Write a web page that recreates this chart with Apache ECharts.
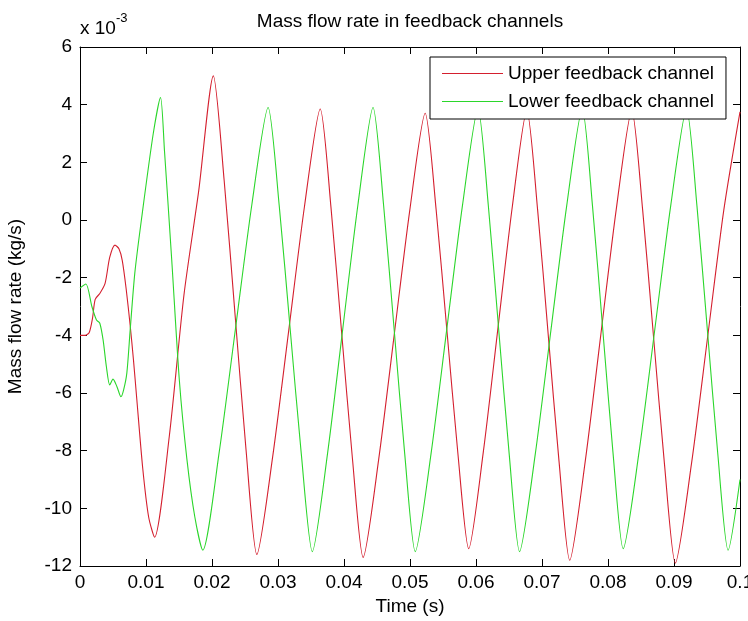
<!DOCTYPE html>
<html>
<head>
<meta charset="utf-8">
<title>Mass flow rate in feedback channels</title>
<script src="https://cdn.jsdelivr.net/npm/echarts/dist/echarts.min.js"></script>
<style>
  html, body { margin: 0; padding: 0; background: #ffffff; }
  #chart { width: 748px; height: 621px; }
</style>
</head>
<body>
<div id="chart"></div>
<script>
// Time samples (s) and mass flow rate (kg/s, in units of 1e-3) for each feedback channel
const upperTime = [
  0, 0.0008, 0.0014, 0.0019, 0.0023, 0.0030, 0.0038, 0.0045, 0.0053, 0.0059, 0.0064,
  0.0070, 0.0076, 0.0081, 0.0086, 0.0095, 0.0104, 0.0113,
  0.01353, 0.01575, 0.01798, 0.0202,
  0.02185, 0.0235, 0.02515, 0.0268,
  0.0292, 0.0316, 0.0340, 0.0364,
  0.03803, 0.03965, 0.04128, 0.0429,
  0.04525, 0.0476, 0.04995, 0.0523,
  0.05395, 0.0556, 0.05725, 0.0589,
  0.0611, 0.0633, 0.0655, 0.0677,
  0.06933, 0.07095, 0.07258, 0.0742,
  0.07655, 0.0789, 0.08125, 0.0836,
  0.08525, 0.0869, 0.08855, 0.0902,
  0.09265, 0.0951, 0.09755, 0.1
];
const upperFlow = [
  -4.0, -4.0, -3.9, -3.4, -2.75, -2.55, -2.2, -1.3, -0.87, -1.0, -1.4,
  -2.4, -3.65, -4.85, -6.2, -8.6, -10.3, -11.0,
  -7.5, -2.6, 1.0, 5.0,
  1.35, -3.3, -7.95, -11.6,
  -8.2, -3.88, 0.45, 3.85,
  0.43, -3.93, -8.28, -11.7,
  -8.31, -4.0, 0.31, 3.7,
  0.38, -3.85, -8.08, -11.4,
  -8.06, -3.8, 0.46, 3.8,
  0.37, -4.0, -8.37, -11.8,
  -8.37, -4.0, 0.37, 3.8,
  0.35, -4.05, -8.45, -11.9,
  -8.45, -4.05, 0.35, 3.75
];
const lowerTime = [
  0, 0.0009, 0.0018, 0.0025, 0.0030, 0.0035, 0.0040, 0.0045, 0.0050, 0.0056, 0.0062,
  0.0066, 0.0071, 0.0076, 0.0083, 0.0093, 0.0111, 0.0122,
  0.0128, 0.0139, 0.01505, 0.0162, 0.0174, 0.0186,
  0.02108, 0.02355, 0.02603, 0.0285,
  0.03018, 0.03185, 0.03353, 0.0352,
  0.0375, 0.0398, 0.0421, 0.0444,
  0.0460, 0.0476, 0.0492, 0.0508,
  0.05318, 0.05555, 0.05793, 0.0603,
  0.06188, 0.06345, 0.06503, 0.0666,
  0.06898, 0.07135, 0.07373, 0.0761,
  0.07765, 0.0792, 0.08075, 0.0823,
  0.0847, 0.0871, 0.0895, 0.0919,
  0.09348, 0.09505, 0.09663, 0.0982,
  0.1
];
const lowerFlow = [
  -2.36, -2.22, -3.0, -3.47, -3.58, -4.16, -5.09, -5.72, -5.52, -5.78, -6.13,
  -5.9, -5.3, -3.82, -1.85, 0.0, 3.0, 4.25,
  2.4, -1.39, -5.55, -8.3, -10.3, -11.45,
  -8.07, -3.78, 0.52, 3.9,
  0.51, -3.8, -8.11, -11.5,
  -8.11, -3.8, 0.51, 3.9,
  0.51, -3.8, -8.11, -11.5,
  -8.12, -3.83, 0.47, 3.85,
  0.47, -3.83, -8.12, -11.5,
  -8.12, -3.83, 0.47, 3.85,
  0.49, -3.78, -8.05, -11.4,
  -8.05, -3.78, 0.49, 3.85,
  0.48, -3.8, -8.1, -11.45,
  -9.0
];
const seriesNames = ['Upper feedback channel', 'Lower feedback channel'];
const seriesColors = ['#d41f2e', '#2bd62b'];

const FONT = '"Liberation Sans", Arial, Helvetica, sans-serif';
const pairs = (xs, ys) => xs.map((x, i) => [x, ys[i]]);
const timeLabel = v => String(+v.toFixed(2));

const axisCommon = {
  axisLine: { show: true, onZero: false, lineStyle: { color: '#000', width: 1 } },
  axisTick: { show: true, inside: true, length: 7, lineStyle: { color: '#000', width: 1 } },
  splitLine: { show: false }
};

const chart = echarts.init(document.getElementById('chart'), null, { renderer: 'canvas' });
chart.setOption({
  animation: false,
  backgroundColor: '#ffffff',
  textStyle: { fontFamily: FONT },
  title: {
    text: 'Mass flow rate in feedback channels',
    left: 410, top: 12, padding: 0, textAlign: 'center',
    textStyle: { fontSize: 19, fontWeight: 'normal', color: '#000', fontFamily: FONT }
  },
  grid: { left: 80, right: 8, top: 47, bottom: 55, containLabel: false, outerBoundsMode: 'none' },
  legend: {
    data: seriesNames,
    left: 430, top: 57, orient: 'vertical',
    icon: 'rect', itemWidth: 61, itemHeight: 1, itemGap: 9,
    padding: [7, 12, 8, 12],
    borderColor: '#000', borderWidth: 1, borderRadius: 0, backgroundColor: '#fff',
    textStyle: { fontSize: 19, color: '#000', fontFamily: FONT }
  },
  xAxis: [
    Object.assign({
      type: 'value', position: 'bottom', min: 0, max: 0.1, interval: 0.01,
      name: 'Time (s)', nameLocation: 'middle', nameGap: 30,
      nameTextStyle: { fontSize: 19, color: '#000', fontFamily: FONT },
      axisLabel: { fontSize: 19, color: '#000', margin: 7, formatter: timeLabel, fontFamily: FONT, hideOverlap: false }
    }, axisCommon),
    Object.assign({
      type: 'value', position: 'top', min: 0, max: 0.1, interval: 0.01,
      axisLabel: { show: false }
    }, axisCommon)
  ],
  yAxis: [
    Object.assign({
      type: 'value', position: 'left', min: -12, max: 6, interval: 2,
      name: 'Mass flow rate (kg/s)', nameLocation: 'middle', nameGap: 55, nameRotate: 90,
      nameTextStyle: { fontSize: 19, color: '#000', fontFamily: FONT },
      axisLabel: { fontSize: 19, color: '#000', margin: 8, fontFamily: FONT, hideOverlap: false }
    }, axisCommon),
    Object.assign({
      type: 'value', position: 'right', min: -12, max: 6, interval: 2,
      axisLabel: { show: false }
    }, axisCommon)
  ],
  graphic: [
    { type: 'text', x: 80, y: 29, style: { text: 'x 10', fontSize: 19, fontFamily: FONT, fill: '#000', verticalAlign: 'middle' } },
    { type: 'text', x: 116, y: 18, style: { text: '-3', fontSize: 13, fontFamily: FONT, fill: '#000', verticalAlign: 'middle' } }
  ],
  series: [
    {
      name: seriesNames[0], type: 'line', xAxisIndex: 0, yAxisIndex: 0,
      data: pairs(upperTime, upperFlow),
      symbol: 'none', smooth: 0.25,
      lineStyle: { color: seriesColors[0], width: 1.1 }, itemStyle: { color: seriesColors[0] }
    },
    {
      name: seriesNames[1], type: 'line', xAxisIndex: 0, yAxisIndex: 0,
      data: pairs(lowerTime, lowerFlow),
      symbol: 'none', smooth: 0.25,
      lineStyle: { color: seriesColors[1], width: 1.1 }, itemStyle: { color: seriesColors[1] }
    }
  ]
});
</script>
</body>
</html>
